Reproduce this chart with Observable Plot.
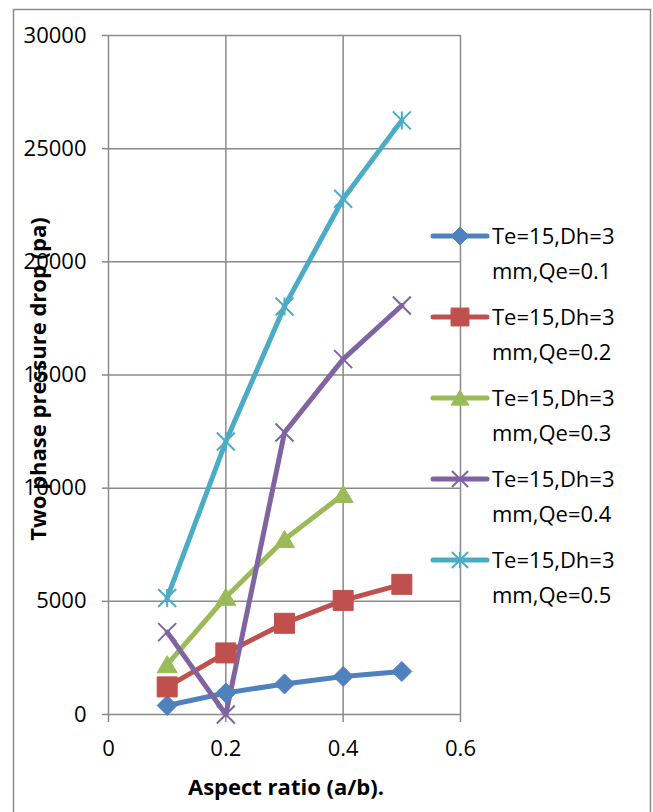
<!DOCTYPE html>
<html><head><meta charset="utf-8">
<script src="https://cdn.jsdelivr.net/npm/d3@7"></script>
<script src="https://cdn.jsdelivr.net/npm/@observablehq/plot@0.6"></script>
<style>body{margin:0;background:#fff} #chart{width:653px;height:812px}</style>
</head><body><div id="chart"></div>
<script>
// ---- data ----
const aspectRatio = [0.1, 0.2, 0.3, 0.4, 0.5];
const qe01 = [400, 950, 1350, 1680, 1900];
const qe02 = [1220, 2720, 4030, 5040, 5750];
const qe03 = [2200, 5180, 7730, 9720];
const qe04 = [3640, 0, 12460, 15700, 18070];
const qe05 = [5150, 12060, 18030, 22790, 26250];
const seriesNames = [
  ["Te=15,Dh=3", "mm,Qe=0.1"],
  ["Te=15,Dh=3", "mm,Qe=0.2"],
  ["Te=15,Dh=3", "mm,Qe=0.3"],
  ["Te=15,Dh=3", "mm,Qe=0.4"],
  ["Te=15,Dh=3", "mm,Qe=0.5"]
];
const colors = ["#4F81BD", "#C0504D", "#9BBB59", "#8064A2", "#4BACC6"];
const xTicks = [0, 0.2, 0.4, 0.6];
const yTicks = [0, 5000, 10000, 15000, 20000, 25000, 30000];
const xTitle = "Aspect ratio (a/b).";
const yTitle = "Two phase pressure drop (pa)";

const allSeries = [qe01, qe02, qe03, qe04, qe05];
const rows = [];
allSeries.forEach((vals, i) => vals.forEach((v, j) => rows.push({s: i, x: aspectRatio[j], y: v})));

// ---- custom marker symbols (size = PI*r^2, r = half extent in px) ----
const R = size => Math.sqrt(size / Math.PI);
const diamond = {draw(c, size) { const r = R(size); c.moveTo(0, -r); c.lineTo(r, 0); c.lineTo(0, r); c.lineTo(-r, 0); c.closePath(); }};
const square = {draw(c, size) { const r = R(size); c.rect(-r, -r, 2 * r, 2 * r); }};
const triangle = {draw(c, size) { const r = R(size); c.moveTo(0, -r * 0.9); c.lineTo(r, r * 0.8); c.lineTo(-r, r * 0.8); c.closePath(); }};
const times = {draw(c, size) { const r = R(size); c.moveTo(-r, -r); c.lineTo(r, r); c.moveTo(-r, r); c.lineTo(r, -r); }};
const star = {draw(c, size) { const r = R(size); c.moveTo(-r, -r); c.lineTo(r, r); c.moveTo(-r, r); c.lineTo(r, -r); c.moveTo(0, -r); c.lineTo(0, r); }};
const symbols = [diamond, square, triangle, times, star];
const filled = [true, true, true, false, false];
const radii = [10, 10, 10, 9, 9];

const gridColor = "#8a8a8a";
const marks = [
  Plot.gridX(xTicks.filter(d => d > 0), {stroke: gridColor, strokeOpacity: 1, strokeWidth: 1.5}),
  Plot.gridY(yTicks.filter(d => d > 0), {stroke: gridColor, strokeOpacity: 1, strokeWidth: 1.5}),
  Plot.axisX(xTicks, {tickSize: 8, tickPadding: 18, stroke: gridColor, strokeWidth: 1.5, label: null, tickFormat: d => String(d), fill: "#000"}),
  Plot.axisY(yTicks, {tickSize: 6, tickPadding: 16, stroke: gridColor, strokeWidth: 1.5, label: null, tickFormat: d => String(d), fill: "#000"}),
  Plot.ruleX([0], {stroke: gridColor, strokeWidth: 1.5, y1: 0, y2: 30000}),
  Plot.ruleY([0], {stroke: gridColor, strokeWidth: 1.5})
];
allSeries.forEach((vals, i) => {
  const d = rows.filter(r => r.s === i);
  marks.push(Plot.line(d, {x: "x", y: "y", stroke: colors[i], strokeWidth: 5, strokeLinejoin: "round", strokeLinecap: "round"}));
});
allSeries.forEach((vals, i) => {
  const d = rows.filter(r => r.s === i);
  marks.push(Plot.dot(d, {x: "x", y: "y", symbol: symbols[i], r: radii[i],
    fill: filled[i] ? colors[i] : "none", stroke: colors[i], strokeWidth: filled[i] ? 1 : 2}));
});

const chart = Plot.plot({
  width: 653, height: 812,
  marginLeft: 108, marginRight: 193, marginTop: 35, marginBottom: 98,
  style: {fontFamily: "'Open Sans', sans-serif", fontSize: "22px", color: "#000", background: "#fff", overflow: "visible"},
  x: {domain: [0, 0.6]},
  y: {domain: [0, 30000]},
  marks
});
document.getElementById("chart").appendChild(chart);

// ---- frame, titles, legend ----
const svg = d3.select(chart);
svg.insert("rect", ":first-child").attr("x", 13.5).attr("y", 9.5).attr("width", 637).attr("height", 820)
  .attr("fill", "#fff").attr("stroke", "#8a8a8a").attr("stroke-width", 1.5);

svg.append("text").attr("x", 286).attr("y", 795).attr("text-anchor", "middle")
  .attr("font-weight", "bold").attr("font-size", 22).attr("fill", "#000").text(xTitle);
svg.append("text").attr("transform", "translate(46,379) rotate(-90)").attr("text-anchor", "middle")
  .attr("font-weight", "bold").attr("font-size", 22).attr("fill", "#000").text(yTitle);

const lg = svg.append("g").attr("text-anchor", "start");
seriesNames.forEach((name, i) => {
  const cy = 236 + i * 81;
  const g = lg.append("g");
  g.append("line").attr("x1", 433).attr("x2", 487).attr("y1", cy).attr("y2", cy)
    .attr("stroke", colors[i]).attr("stroke-width", 5).attr("stroke-linecap", "round");
  g.append("path").attr("transform", `translate(460,${cy})`)
    .attr("d", d3.symbol(symbols[i], Math.PI * radii[i] * radii[i] * 0.8)())
    .attr("fill", filled[i] ? colors[i] : "none").attr("stroke", colors[i]).attr("stroke-width", filled[i] ? 1 : 2);
  const t = g.append("text").attr("x", 492).attr("y", cy + 8).attr("font-size", 22)
    .attr("fill", "#000").attr("text-anchor", "start");
  t.append("tspan").attr("x", 492).text(name[0]);
  t.append("tspan").attr("x", 492).attr("dy", 35).text(name[1]);
});
</script></body></html>
